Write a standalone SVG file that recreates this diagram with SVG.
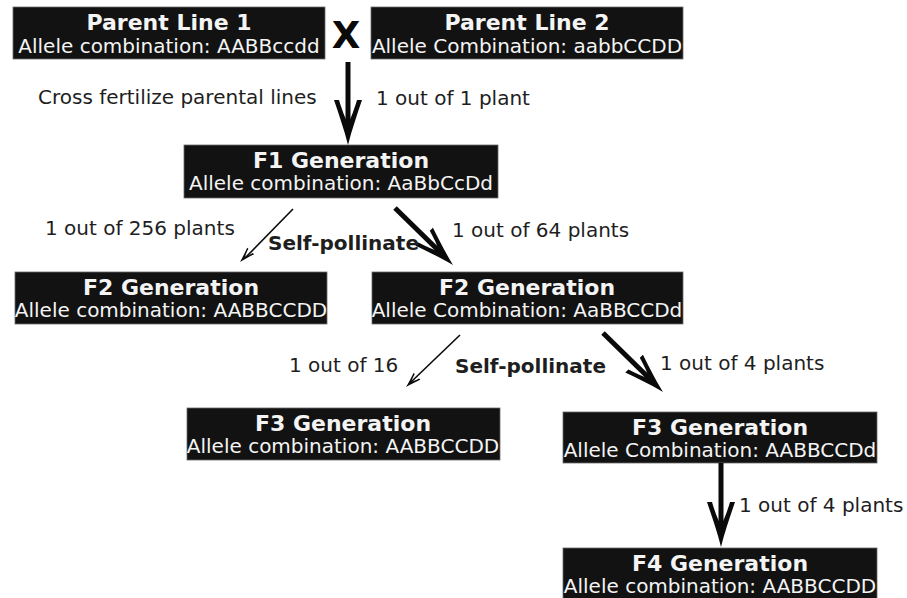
<svg xmlns="http://www.w3.org/2000/svg" xmlns:xlink="http://www.w3.org/1999/xlink" width="907" height="598" viewBox="0 0 907 598">
<style>
.box{fill:#121212;stroke:#6a6a6a;stroke-width:0.8}
.t{font-family:"DejaVu Sans",Verdana,sans-serif;text-anchor:middle;fill:#f4f4f4}
.tb{font-weight:bold;font-size:22px}
.tr{font-size:20px}
.lbl{font-family:"DejaVu Sans",Verdana,sans-serif;font-size:20px;fill:#1e1e1e}
.lblb{font-family:"DejaVu Sans",Verdana,sans-serif;font-size:20px;font-weight:bold;fill:#1e1e1e}
.shaft{stroke:#0a0a0a;stroke-width:5;fill:none}
.thin{stroke:#0a0a0a;stroke-width:1.6;fill:none}
.head{fill:#0a0a0a}
</style>
<defs>
<path id="hd" d="M0,0 C-4,-16 -9,-30 -14,-45 L-9,-45 C-6,-35 -3,-27 0,-22 C3,-27 6,-35 9,-45 L14,-45 C9,-30 4,-16 0,0 Z"/>
</defs>
<rect width="907" height="598" fill="#ffffff"/>

<g id="parent1">
<rect class="box" x="13" y="7" width="312" height="52"/>
<text class="t tb" x="169" y="30">Parent Line 1</text>
<text class="t tr" x="169" y="53">Allele combination: AABBccdd</text>
</g>
<g id="cross">
<text x="346" y="48" font-family="DejaVu Sans,Verdana,sans-serif" font-weight="bold" font-size="37" text-anchor="middle" fill="#0a0a0a">X</text>
</g>
<g id="parent2">
<rect class="box" x="371" y="7" width="312" height="52"/>
<text class="t tb" x="527" y="30">Parent Line 2</text>
<text class="t tr" x="527" y="53">Allele Combination: aabbCCDD</text>
</g>
<g id="f1">
<rect class="box" x="184" y="145" width="314" height="53"/>
<text class="t tb" x="341" y="168">F1 Generation</text>
<text class="t tr" x="341" y="190">Allele combination: AaBbCcDd</text>
</g>
<g id="f2a">
<rect class="box" x="15" y="272" width="312" height="52"/>
<text class="t tb" x="171" y="295">F2 Generation</text>
<text class="t tr" x="171" y="317">Allele combination: AABBCCDD</text>
</g>
<g id="f2b">
<rect class="box" x="372" y="272" width="311" height="52"/>
<text class="t tb" x="527" y="295">F2 Generation</text>
<text class="t tr" x="527" y="317">Allele Combination: AaBBCCDd</text>
</g>
<g id="f3a">
<rect class="box" x="187" y="408" width="313" height="52"/>
<text class="t tb" x="343" y="431">F3 Generation</text>
<text class="t tr" x="343" y="453">Allele combination: AABBCCDD</text>
</g>
<g id="f3b">
<rect class="box" x="563" y="412" width="314" height="51"/>
<text class="t tb" x="720" y="435">F3 Generation</text>
<text class="t tr" x="720" y="457">Allele Combination: AABBCCDd</text>
</g>
<g id="f4">
<rect class="box" x="563" y="548" width="314" height="56"/>
<text class="t tb" x="720" y="571">F4 Generation</text>
<text class="t tr" x="720" y="593">Allele combination: AABBCCDD</text>
</g>

<g id="connectors">
<line class="shaft" x1="348" y1="62" x2="348" y2="124"/>
<use href="#hd" xlink:href="#hd" class="head" transform="translate(348,145)"/>

<line class="shaft" x1="395" y1="208" x2="439" y2="251"/>
<use href="#hd" xlink:href="#hd" class="head" transform="translate(453,265) rotate(-45.5) scale(0.9)"/>

<line class="thin" x1="293" y1="209" x2="246" y2="257"/>
<use href="#hd" xlink:href="#hd" class="head" transform="translate(240,262) rotate(43.8) scale(0.34)"/>

<line class="shaft" x1="603" y1="333" x2="649" y2="378"/>
<use href="#hd" xlink:href="#hd" class="head" transform="translate(663,392) rotate(-45.5) scale(0.9)"/>

<line class="thin" x1="460" y1="335" x2="411" y2="382"/>
<use href="#hd" xlink:href="#hd" class="head" transform="translate(406,387) rotate(45.6) scale(0.34)"/>

<line class="shaft" x1="721" y1="463" x2="721" y2="526"/>
<use href="#hd" xlink:href="#hd" class="head" transform="translate(721,547)"/>
</g>

<g id="labels">
<text class="lbl" x="38" y="104">Cross fertilize parental lines</text>
<text class="lbl" x="376" y="105">1 out of 1 plant</text>
<text class="lbl" x="45" y="235">1 out of 256 plants</text>
<text class="lblb" x="268" y="250">Self-pollinate</text>
<text class="lbl" x="452" y="237">1 out of 64 plants</text>
<text class="lbl" x="289" y="372">1 out of 16</text>
<text class="lblb" x="455" y="373">Self-pollinate</text>
<text class="lbl" x="660" y="370">1 out of 4 plants</text>
<text class="lbl" x="739" y="512">1 out of 4 plants</text>
</g>
</svg>
